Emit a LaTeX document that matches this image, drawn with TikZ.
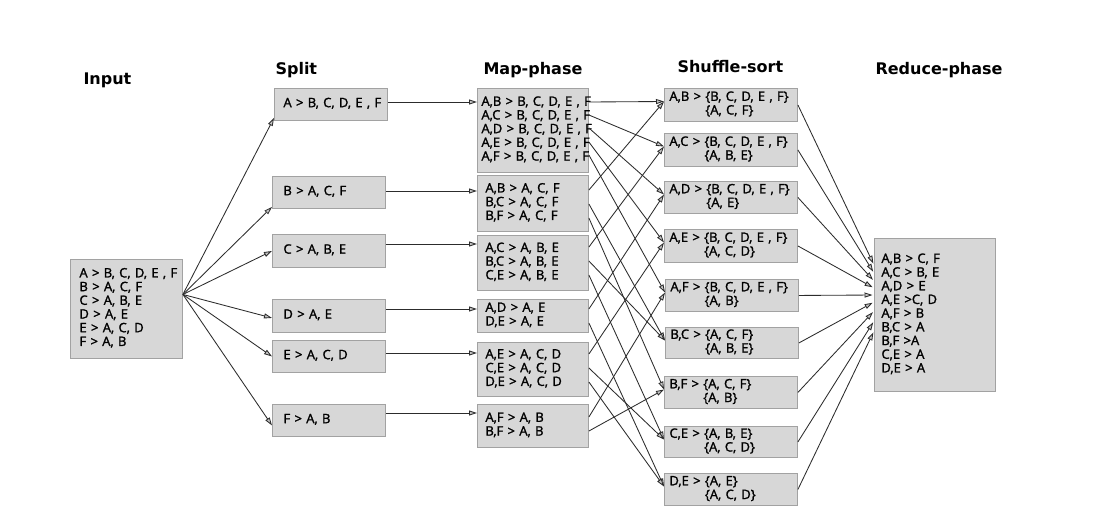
\documentclass[tikz,border=0pt]{standalone}
\usepackage{fontspec}
\setmainfont{DejaVu Sans}
\newfontfamily\boxfont[FakeBold=1.6]{Open Sans}
\usetikzlibrary{arrows.meta}
\definecolor{boxfill}{HTML}{D7D7D7}
\definecolor{boxline}{HTML}{A2A2A2}
\definecolor{arrcol}{HTML}{2C2C2C}
\newcommand\lns[1]{\begin{tabular}{@{}l@{}}#1\end{tabular}}
\begin{document}
\begin{tikzpicture}[x=1pt,y=-1pt,
  box/.style={draw=boxline, fill=boxfill, line width=0.9pt, anchor=north west, align=left,
    inner ysep=0pt, font=\boxfont\fontsize{13}{13.7}\selectfont},
  ttl/.style={anchor=base west, font=\fontsize{16}{19}\selectfont\bfseries},
  arr/.style={draw=arrcol, line width=0.85pt, -{Triangle[length=8pt,width=5pt,fill=gray!45]}}]
\fill[white] (0,0) rectangle (1113,528);
\useasboundingbox (0,0) rectangle (1113,528);

% titles
\node[ttl] (tIn) at (80,84) {Input};
\node[ttl] (tSp) at (272,74) {Split};
\node[ttl] (tMap) at (480,74) {Map-phase};
\node[ttl] (tSh) at (674,72) {Shuffle-sort};
\node[ttl] (tRe) at (872,74) {Reduce-phase};

% input
\node[box, inner xsep=9pt, text width=94pt, minimum height=99pt] (in) at (70,259)
  {\lns{A > B, C, D, E , F\\B > A, C, F\\C > A, B, E\\D > A, E\\E > A, C, D\\F > A, B}};

% split
\node[box, inner xsep=9pt, text width=95pt, minimum height=32pt] (sA) at (274,88) {\lns{A > B, C, D, E , F}};
\node[box, inner xsep=11pt, text width=91pt, minimum height=32pt] (sB) at (272,176) {\lns{B > A, C, F}};
\node[box, inner xsep=11pt, text width=91pt, minimum height=33pt] (sC) at (272,234) {\lns{C > A, B, E}};
\node[box, inner xsep=11pt, text width=91pt, minimum height=33pt] (sD) at (272,299) {\lns{D > A, E}};
\node[box, inner xsep=11pt, text width=91pt, minimum height=32pt] (sE) at (272,340) {\lns{E > A, C, D}};
\node[box, inner xsep=11pt, text width=91pt, minimum height=32pt] (sF) at (272,404) {\lns{F > A, B}};

% map
\node[box, inner xsep=4pt, text width=103pt, minimum height=84pt] (mA) at (477,88)
  {\lns{A,B > B, C, D, E , F\\A,C > B, C, D, E , F\\A,D > B, C, D, E , F\\A,E > B, C, D, E , F\\A,F > B, C, D, E , F}};
\node[box, inner xsep=8pt, text width=95pt, minimum height=56pt] (mB) at (477,175)
  {\lns{A,B > A, C, F\\B,C > A, C, F\\B,F > A, C, F}};
\node[box, inner xsep=8pt, text width=95pt, minimum height=55pt] (mC) at (477,235)
  {\lns{A,C > A, B, E\\B,C > A, B, E\\C,E > A, B, E}};
\node[box, inner xsep=8pt, text width=95pt, minimum height=33pt] (mD) at (477,299)
  {\lns{A,D > A, E\\D,E > A, E}};
\node[box, inner xsep=8pt, text width=95pt, minimum height=54pt] (mE) at (477,342)
  {\lns{A,E > A, C, D\\C,E > A, C, D\\D,E > A, C, D}};
\node[box, inner xsep=8pt, text width=95pt, minimum height=43pt] (mF) at (477,404)
  {\lns{A,F > A, B\\B,F > A, B}};

% shuffle
\node[box, inner xsep=5pt, text width=123pt, minimum height=33pt] (qAB) at (664,88)
  {\lns{A,B > \{B, C, D, E , F\}\\\hphantom{A,B > }\{A, C, F\}}};
\node[box, inner xsep=5pt, text width=123pt, minimum height=33pt] (qAC) at (664,133)
  {\lns{A,C > \{B, C, D, E , F\}\\\hphantom{A,C > }\{A, B, E\}}};
\node[box, inner xsep=5pt, text width=123pt, minimum height=32pt] (qAD) at (664,181)
  {\lns{A,D > \{B, C, D, E , F\}\\\hphantom{A,D > }\{A, E\}}};
\node[box, inner xsep=5pt, text width=123pt, minimum height=33pt] (qAE) at (664,229)
  {\lns{A,E > \{B, C, D, E , F\}\\\hphantom{A,E > }\{A, C, D\}}};
\node[box, inner xsep=5pt, text width=123pt, minimum height=32pt] (qAF) at (665,279)
  {\lns{A,F > \{B, C, D, E , F\}\\\hphantom{A,F > }\{A, B\}}};
\node[box, inner xsep=5pt, text width=123pt, minimum height=31pt] (qBC) at (665,327)
  {\lns{B,C > \{A, C, F\}\\\hphantom{B,C > }\{A, B, E\}}};
\node[box, inner xsep=5pt, text width=123pt, minimum height=32pt] (qBF) at (664,376)
  {\lns{B,F > \{A, C, F\}\\\hphantom{B,F > }\{A, B\}}};
\node[box, inner xsep=5pt, text width=123pt, minimum height=31pt] (qCE) at (664,426)
  {\lns{C,E > \{A, B, E\}\\\hphantom{C,E > }\{A, C, D\}}};
\node[box, inner xsep=5pt, text width=123pt, minimum height=32pt] (qDE) at (664,473)
  {\lns{D,E > \{A, E\}\\\hphantom{D,E > }\{A, C, D\}}};

% reduce
\node[box, inner xsep=7pt, text width=107pt, minimum height=153pt] (rd) at (874,238)
  {\lns{A,B > C, F\\A,C > B, E\\A,D > E\\A,E >C, D\\A,F > B\\B,C > A\\B,F >A\\C,E > A\\D,E > A}};

% input -> split
\coordinate (fan) at ([yshift=14.5pt]in.east);
\draw[arr] (fan) -- ([yshift=3pt]sA.south west);
\draw[arr] (fan) -- ([yshift=2pt]sB.south west);
\draw[arr] (fan) -- (sC.west);
\draw[arr] (fan) -- ([yshift=-2pt]sD.west);
\draw[arr] (fan) -- (sE.west);
\draw[arr] (fan) -- ([yshift=-5pt]sF.west);

% split -> map
\foreach \s/\y in {A/102, B/191, C/244, D/309, E/353, F/413}
  \draw[arr] (s\s.east |- 0,\y) -- (m\s.west |- 0,\y);

% map -> shuffle
\foreach \m/\y/\t in {mA/102/AB, mA/115/AC, mA/128/AD, mA/142/AE, mA/155/AF,
    mB/190/AB, mB/204/BC, mB/218/BF, mC/247/AC, mC/261/BC, mC/275/CE,
    mD/309/AD, mD/323/DE, mE/354/AE, mE/368/CE, mE/382/DE, mF/417/AF, mF/431/BF}
  \draw[arr] (\m.east |- 0,\y) -- ([yshift=-13.5pt]q\t.north west);

% shuffle -> reduce
\foreach \t/\y in {AB/265, AC/273, AD/281, AE/288, AF/295, BC/302, BF/311, CE/321, DE/331}
  \draw[arr, shorten >=1.5pt] (q\t.east) -- (rd.west |- 0,\y);
\end{tikzpicture}
\end{document}
